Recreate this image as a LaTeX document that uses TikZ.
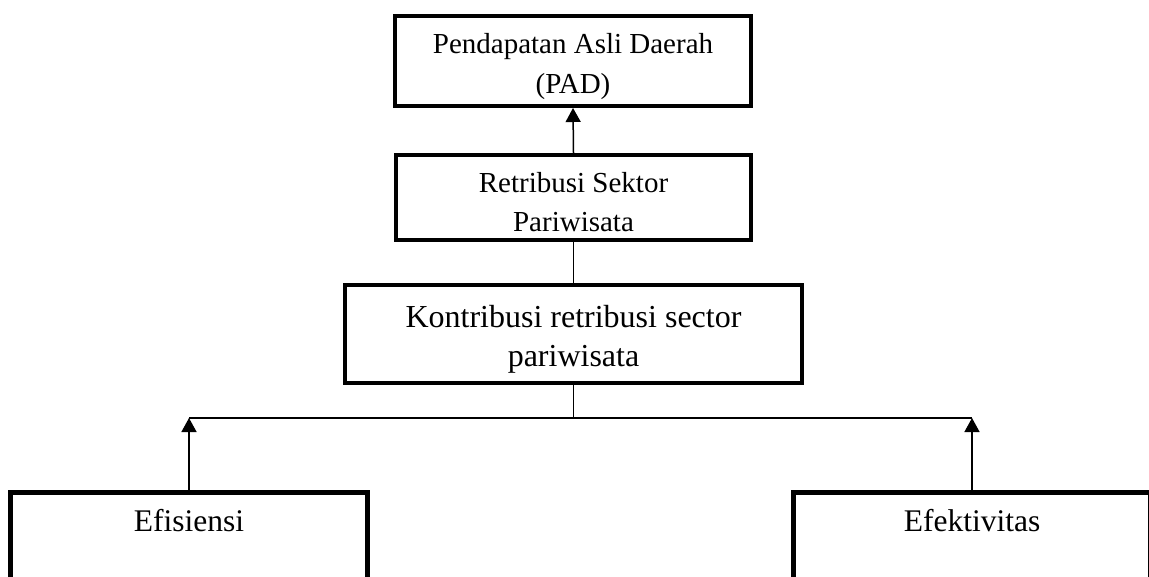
\documentclass[tikz,border=0pt]{standalone}
\usepackage{fontspec}
\setmainfont{Liberation Serif}
\usetikzlibrary{arrows.meta}
\begin{document}
\begin{tikzpicture}[x=1pt,y=-1pt,
  box/.style={draw, line width=4pt, inner sep=0pt},
  lowbox/.style={draw, line width=5pt, inner sep=0pt, minimum width=357pt, minimum height=150pt, anchor=north},
  txt/.style={inner sep=0pt, align=center},
  conn/.style={line width=1.5pt},
  arr/.style={conn, -{Triangle[width=15pt,length=14pt]}}]
\useasboundingbox (0,0) rectangle (1149,576);
\begin{scope}
\clip (0,0) rectangle (1149,576);
\node[box, minimum width=356pt, minimum height=90pt] (pad) at (573,61) {};
\node[box, minimum width=355pt, minimum height=85pt] (ret) at (573.5,197.5) {};
\node[box, minimum width=457pt, minimum height=98pt] (kon) at (573.5,334) {};
\node[txt, font=\fontsize{29}{40}\selectfont] (padt) at (573,66.5) {Pendapatan Asli Daerah\\(PAD)};
\node[txt, font=\fontsize{29}{39}\selectfont] (rett) at (573.5,202.5) {Retribusi Sektor\\Pariwisata};
\node[txt, font=\fontsize{32}{39}\selectfont] (kont) at (573.5,339) {Kontribusi retribusi sector\\pariwisata};
\node[lowbox] (efi) at (189,490) {};
\node[lowbox] (efk) at (972,490) {};
\node[txt, anchor=base, font=\fontsize{31.5}{37}\selectfont] (efit) at (189,531) {Efisiensi};
\node[txt, anchor=base, font=\fontsize{31.5}{37}\selectfont] (efkt) at (972,531) {Efektivitas};
\coordinate (jl) at (189,418);
\coordinate (jr) at (972,418);
\coordinate (jm) at (573.5,418);
\draw[arr] (ret.north) -- (pad.south);
\draw[conn] (ret.south) -- (kon.north);
\draw[conn] (kon.south) -- (jm);
\draw[conn] (jl) -- (jr);
\draw[arr] (efi.north) -- (jl);
\draw[arr] (efk.north) -- (jr);
\end{scope}
\end{tikzpicture}
\end{document}
